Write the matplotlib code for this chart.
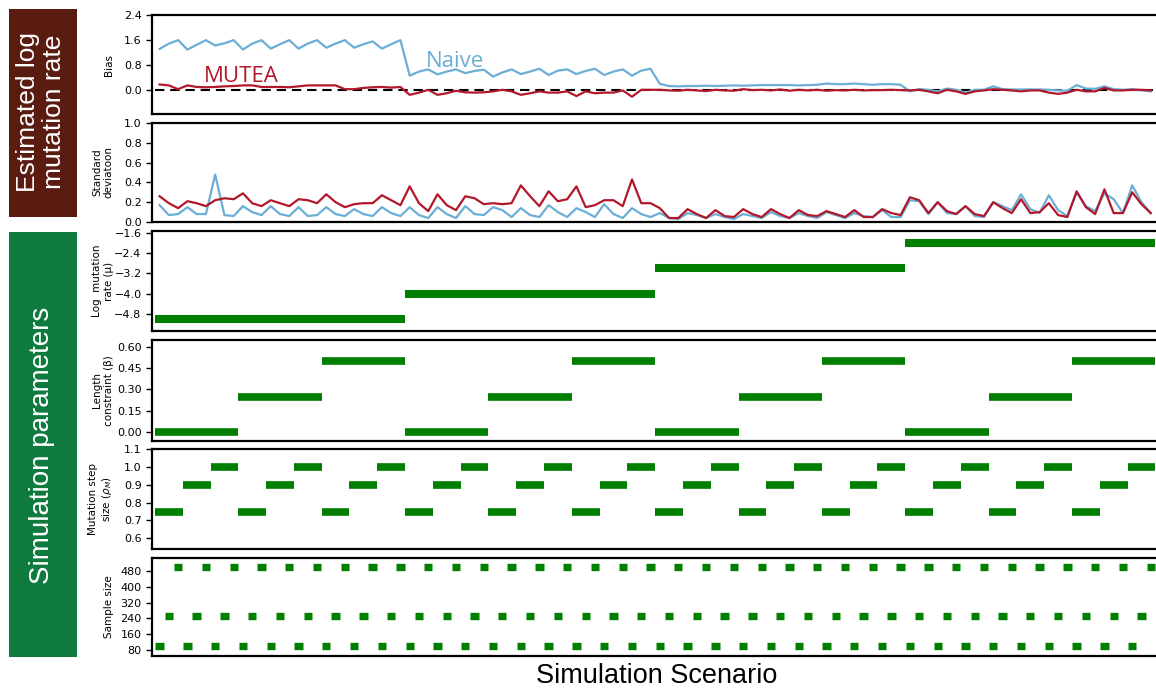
import numpy as np
import matplotlib
matplotlib.use("Agg")
import matplotlib.pyplot as plt
from matplotlib.patches import Rectangle

# ---------------- data ----------------
mu_levels = [-5.0, -4.0, -3.0, -2.0]
beta_levels = [0.0, 0.25, 0.5]
step_levels = [0.75, 0.9, 1.0]
sample_levels = [100, 250, 500]

bias_mutea = [
    0.19, 0.16, 0.04, 0.16, 0.11, 0.10, 0.11, 0.13, 0.14,
    0.16, 0.16, 0.11, 0.11, 0.11, 0.10, 0.13, 0.16, 0.16,
    0.16, 0.16, 0.04, 0.04, 0.08, 0.10, 0.11, 0.09, 0.11,
    -0.14, -0.07, 0.02, -0.14, -0.09, -0.01, -0.06, -0.07, -0.06,
    -0.03, 0.02, -0.03, -0.14, -0.09, -0.03, -0.07, -0.07, -0.03,
    -0.18, -0.03, -0.09, -0.07, -0.07, 0.00, -0.20, 0.02, 0.02,
    0.02, 0.00, -0.01, 0.02, 0.00, -0.02, 0.02, 0.00, -0.01,
    0.04, 0.01, 0.02, 0.00, 0.03, -0.01, 0.02, 0.00, 0.02,
    -0.01, 0.01, 0.00, 0.02, 0.00, 0.01, 0.01, 0.02, 0.01,
    0.00, 0.02, -0.03, -0.09, 0.02, -0.03, -0.11, -0.03, 0.00,
    0.04, 0.02, 0.00, -0.03, 0.00, 0.00, -0.07, -0.11, -0.07,
    0.02, -0.03, -0.03, 0.08, 0.00, 0.00, 0.02, 0.02, 0.00,
]
bias_naive = [
    1.32, 1.49, 1.60, 1.30, 1.45, 1.60, 1.43, 1.50, 1.60,
    1.30, 1.49, 1.60, 1.33, 1.47, 1.60, 1.33, 1.49, 1.60,
    1.36, 1.49, 1.60, 1.36, 1.47, 1.56, 1.33, 1.47, 1.60,
    0.47, 0.60, 0.67, 0.51, 0.60, 0.67, 0.55, 0.62, 0.66,
    0.44, 0.57, 0.67, 0.52, 0.60, 0.69, 0.49, 0.63, 0.67,
    0.52, 0.62, 0.69, 0.49, 0.60, 0.67, 0.47, 0.63, 0.69,
    0.21, 0.14, 0.13, 0.14, 0.14, 0.15, 0.14, 0.15, 0.16,
    0.15, 0.16, 0.17, 0.17, 0.17, 0.17, 0.16, 0.17, 0.18,
    0.22, 0.20, 0.20, 0.22, 0.20, 0.18, 0.20, 0.20, 0.18,
    -0.03, 0.04, 0.02, -0.03, 0.06, 0.02, -0.07, 0.02, 0.02,
    0.13, 0.04, 0.03, 0.03, 0.03, 0.03, 0.02, 0.00, -0.01,
    0.17, 0.06, 0.05, 0.13, 0.04, 0.02, 0.04, 0.00, -0.03,
]
sd_mutea = [
    0.26, 0.19, 0.14, 0.21, 0.19, 0.16, 0.22, 0.24, 0.23,
    0.29, 0.19, 0.16, 0.22, 0.19, 0.16, 0.23, 0.22, 0.19,
    0.28, 0.20, 0.15, 0.18, 0.19, 0.19, 0.27, 0.22, 0.17,
    0.36, 0.19, 0.11, 0.28, 0.17, 0.12, 0.26, 0.24, 0.18,
    0.19, 0.18, 0.19, 0.37, 0.26, 0.16, 0.31, 0.21, 0.23,
    0.36, 0.15, 0.17, 0.22, 0.22, 0.16, 0.43, 0.19, 0.19,
    0.14, 0.04, 0.04, 0.13, 0.08, 0.04, 0.12, 0.06, 0.05,
    0.13, 0.08, 0.05, 0.13, 0.08, 0.04, 0.12, 0.07, 0.06,
    0.11, 0.08, 0.05, 0.12, 0.05, 0.05, 0.13, 0.09, 0.07,
    0.25, 0.22, 0.09, 0.20, 0.11, 0.08, 0.16, 0.08, 0.06,
    0.20, 0.14, 0.09, 0.23, 0.09, 0.10, 0.19, 0.07, 0.05,
    0.31, 0.15, 0.08, 0.33, 0.09, 0.09, 0.30, 0.18, 0.09,
]
sd_naive = [
    0.17, 0.07, 0.08, 0.15, 0.08, 0.08, 0.48, 0.07, 0.06,
    0.16, 0.10, 0.07, 0.16, 0.08, 0.06, 0.15, 0.06, 0.07,
    0.15, 0.08, 0.06, 0.13, 0.08, 0.06, 0.15, 0.09, 0.06,
    0.15, 0.07, 0.04, 0.15, 0.08, 0.04, 0.16, 0.08, 0.07,
    0.15, 0.12, 0.05, 0.14, 0.07, 0.05, 0.17, 0.10, 0.05,
    0.14, 0.10, 0.05, 0.18, 0.08, 0.04, 0.14, 0.08, 0.05,
    0.09, 0.04, 0.03, 0.09, 0.07, 0.04, 0.08, 0.05, 0.03,
    0.08, 0.06, 0.04, 0.10, 0.06, 0.04, 0.09, 0.06, 0.04,
    0.10, 0.07, 0.04, 0.09, 0.06, 0.05, 0.12, 0.05, 0.05,
    0.22, 0.21, 0.08, 0.20, 0.09, 0.08, 0.16, 0.06, 0.05,
    0.20, 0.16, 0.12, 0.28, 0.13, 0.09, 0.27, 0.12, 0.06,
    0.30, 0.16, 0.11, 0.29, 0.23, 0.09, 0.37, 0.20, 0.09,
]

bias_ticks = [0.0, 0.8, 1.6, 2.4]
sd_ticks = [0.0, 0.2, 0.4, 0.6, 0.8, 1.0]
mu_ticks = [-4.8, -4.0, -3.2, -2.4, -1.6]
beta_ticks = [0.00, 0.15, 0.30, 0.45, 0.60]
step_ticks = [0.6, 0.7, 0.8, 0.9, 1.0, 1.1]
sample_ticks = [80, 160, 240, 320, 400, 480]

# ---------------- scenario table ----------------
n_mu, n_beta, n_step, n_samp = len(mu_levels), len(beta_levels), len(step_levels), len(sample_levels)
N = n_mu * n_beta * n_step * n_samp
idx = np.arange(N)
mu_sc = np.array(mu_levels)[idx // (n_beta * n_step * n_samp)]
beta_sc = np.array(beta_levels)[(idx // (n_step * n_samp)) % n_beta]
step_sc = np.array(step_levels)[(idx // n_samp) % n_step]
samp_sc = np.array(sample_levels)[idx % n_samp]
xc = idx + 0.5

RED = "#b2182b"
BLUE = "#6baed6"
GREEN = "#007f00"

W, H = 1156, 689
fig = plt.figure(figsize=(W / 100, H / 100), dpi=100)
plt.rcParams['font.family'] = ['DejaVu Sans']

left_px, right_px = 152, 1160
panels = [(15, 114), (123, 222), (231, 331), (340, 441), (449, 549), (558, 656)]
axes = []
for top, bot in panels:
    ax = fig.add_axes([left_px / W, 1 - bot / H, (right_px - left_px) / W, (bot - top) / H])
    ax.set_xlim(-0.32, 108.5)
    ax.set_xticks([])
    for s in ax.spines.values():
        s.set_linewidth(1.6)
    ax.tick_params(axis='y', direction='out', length=4, width=1, labelsize=8, right=False)
    axes.append(ax)

ax_bias, ax_sd, ax_mu, ax_beta, ax_step, ax_samp = axes

# Bias
ax_bias.plot(xc, bias_naive, color=BLUE, lw=1.6)
ax_bias.plot(xc, bias_mutea, color=RED, lw=1.6)
ax_bias.hlines(0, 0, N, colors='black', linestyles=(0, (4.5, 2.8)), lw=1.5, zorder=1)
ax_bias.set_ylim(-0.75, 2.4)
ax_bias.set_yticks(bias_ticks)
ax_bias.set_ylabel("Bias", fontsize=7.5)
ax_bias.text(5.3, 0.28, "MUTEA", color=RED, fontsize=16, family='Open Sans')
ax_bias.text(29.3, 0.75, "Naive", color=BLUE, fontsize=16, family='Open Sans')

# Standard deviation
ax_sd.plot(xc, sd_naive, color=BLUE, lw=1.6)
ax_sd.plot(xc, sd_mutea, color=RED, lw=1.6)
ax_sd.set_ylim(0, 1.0)
ax_sd.set_yticks(sd_ticks)
ax_sd.set_ylabel("Standard\ndeviatoon", fontsize=7.5)


def draw_runs(ax, vals, lw):
    start = 0
    for i in range(1, len(vals) + 1):
        if i == len(vals) or vals[i] != vals[start]:
            ax.hlines(vals[start], start, i, colors=GREEN, lw=lw)
            start = i


draw_runs(ax_mu, mu_sc, 5.8)
ax_mu.set_ylim(-5.48, -1.52)
ax_mu.set_yticks(mu_ticks)
ax_mu.set_ylabel("Log  mutation\nrate (\u03bc)", fontsize=7.5)

draw_runs(ax_beta, beta_sc, 5.5)
ax_beta.set_ylim(-0.063, 0.648)
ax_beta.set_yticks(beta_ticks)
ax_beta.set_yticklabels([f"{t:.2f}" for t in beta_ticks])
ax_beta.set_ylabel("Length\nconstraint (\u03b2)", fontsize=7.5)

draw_runs(ax_step, step_sc, 5.5)
ax_step.set_ylim(0.54, 1.1)
ax_step.set_yticks(step_ticks)
ax_step.set_ylabel("Mutation step\nsize ($\\rho_M$)", fontsize=7.5)

ax_samp.hlines(samp_sc, idx + 0.05, idx + 0.95, colors=GREEN, lw=5.3)
ax_samp.set_ylim(50, 546)
ax_samp.set_yticks(sample_ticks)
ax_samp.set_ylabel("Sample size", fontsize=7.5)

for ax in axes:
    ax.yaxis.set_label_coords(-0.038, 0.5)

# x label
fig.text(657 / W, 1 - 676 / H, "Simulation Scenario", fontsize=19.5, ha='center', va='center',
         family='Liberation Sans')

# side boxes
fig.add_artist(Rectangle((9 / W, 1 - 217 / H), 68 / W, 208 / H, transform=fig.transFigure,
                         facecolor="#5a1c10", edgecolor='none'))
fig.add_artist(Rectangle((9 / W, 1 - 657 / H), 68 / W, 425 / H, transform=fig.transFigure,
                         facecolor="#0f7a3e", edgecolor='none'))
fig.text(41 / W, 1 - 112 / H, "Estimated log\nmutation rate", color='white', rotation=90,
         fontsize=19, ha='center', va='center', family='Liberation Sans', linespacing=1.15)
fig.text(42 / W, 1 - 445 / H, "Simulation parameters", color='white', rotation=90,
         fontsize=20, ha='center', va='center', family='Liberation Sans')

fig.savefig("out.png", dpi=100)
